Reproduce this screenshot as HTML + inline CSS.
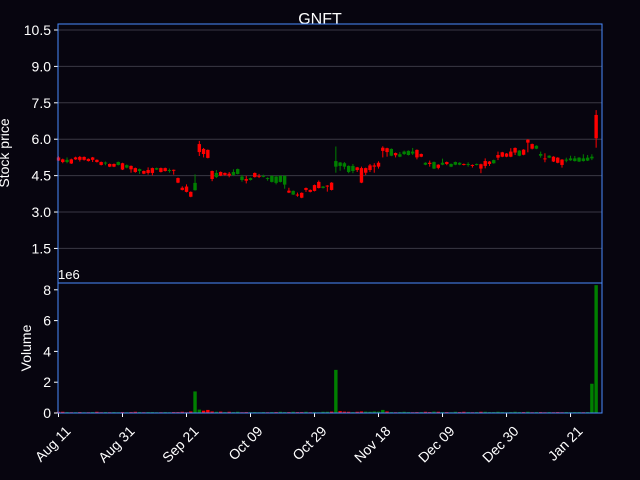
<!DOCTYPE html>
<html><head><meta charset="utf-8"><style>
html,body{margin:0;padding:0;background:#07050f;}
svg{display:block;font-family:"Liberation Sans","DejaVu Sans",sans-serif;}
</style></head><body>
<svg id="chart" width="640" height="480" viewBox="0 0 640 480" xmlns="http://www.w3.org/2000/svg">
<rect x="0" y="0" width="640" height="480" fill="#07050f"/>
<text x="320" y="24" fill="#ffffff" font-size="16" text-anchor="middle">GNFT</text>
<text transform="translate(9,153) rotate(-90)" fill="#ffffff" font-size="14" text-anchor="middle">Stock price</text>
<text transform="translate(31,348) rotate(-90)" fill="#ffffff" font-size="14" text-anchor="middle">Volume</text>
<text x="58" y="279" fill="#ffffff" font-size="13">1e6</text>
<g id="grid"></g>
<g id="candles"></g>
<g id="vols"></g>
<g id="axes"></g>
<rect x="58" y="24" width="544" height="259" fill="none" stroke="#4a8cff" stroke-width="1"/>
<rect x="58" y="283" width="544" height="130" fill="none" stroke="#4a8cff" stroke-width="1"/>
</svg>
<script>
const opens=[5.25,5.17,5.06,5.17,5.25,5.27,5.27,5.19,5.25,5.15,5.06,5.0,4.98,4.98,4.94,5.01,4.83,4.9,4.81,4.69,4.69,4.73,4.81,4.75,4.81,4.81,4.69,4.74,4.4,4.0,4.05,3.83,3.9,5.8,5.6,5.56,4.69,4.44,4.65,4.61,4.58,4.53,4.57,4.32,4.36,4.32,4.61,4.49,4.47,4.38,4.24,4.2,4.24,4.13,3.88,3.72,3.72,3.79,3.99,3.91,4.11,4.24,3.99,4.09,4.21,4.87,4.9,4.87,4.65,4.69,4.84,4.81,4.81,4.92,4.92,5.03,5.65,5.63,5.32,5.43,5.28,5.39,5.35,5.41,5.56,5.39,4.95,5.03,4.79,4.95,4.95,5.06,4.87,4.95,4.95,4.98,4.95,4.94,4.94,4.97,5.1,5.08,5.01,5.35,5.46,5.41,5.49,5.64,5.32,5.57,5.98,5.8,5.61,5.32,5.21,5.24,5.28,5.24,5.16,5.13,5.13,5.1,5.08,5.1,5.12,5.21,7.0];
const highs=[5.3,5.2,5.25,5.2,5.28,5.31,5.29,5.21,5.27,5.17,5.08,5.08,5.0,5.0,5.08,5.03,4.96,4.92,4.83,4.79,4.71,4.84,4.83,4.83,4.83,4.83,4.79,4.75,4.42,4.06,4.14,3.85,4.55,5.93,5.64,5.58,4.71,4.73,4.67,4.63,4.65,4.76,4.79,4.53,4.49,4.42,4.63,4.57,4.54,4.43,4.51,4.48,4.51,4.51,4.0,3.89,3.8,3.81,4.01,3.93,4.13,4.3,4.07,4.11,4.23,5.7,5.06,5.06,4.92,4.98,4.86,4.87,4.83,4.98,5.01,5.09,5.71,5.65,5.62,5.45,5.47,5.53,5.54,5.64,5.58,5.41,5.05,5.12,5.08,4.97,5.2,5.08,5.0,5.08,5.05,5.0,5.05,4.96,5.0,4.99,5.21,5.1,5.16,5.49,5.48,5.43,5.63,5.66,5.55,5.59,6.0,5.82,5.75,5.49,5.42,5.34,5.3,5.26,5.18,5.24,5.32,5.31,5.26,5.38,5.35,5.38,7.2];
const lows=[5.1,5.01,5.01,4.98,5.15,5.08,5.12,5.08,5.06,5.04,4.92,4.93,4.85,4.85,4.92,4.73,4.8,4.62,4.62,4.57,4.56,4.54,4.51,4.73,4.63,4.67,4.62,4.54,4.19,3.89,3.81,3.61,3.88,5.31,5.25,5.21,4.27,4.4,4.48,4.5,4.43,4.49,4.55,4.25,4.18,4.3,4.42,4.4,4.43,4.29,4.22,4.14,4.22,3.96,3.78,3.7,3.63,3.57,3.83,3.81,3.85,3.97,3.97,3.84,3.89,4.62,4.7,4.76,4.6,4.6,4.65,4.19,4.52,4.65,4.62,4.79,5.25,5.28,5.3,5.25,5.26,5.35,5.33,5.35,5.17,5.26,4.93,4.87,4.77,4.76,4.93,4.93,4.85,4.93,4.93,4.92,4.87,4.83,4.92,4.6,4.8,4.9,4.99,5.14,5.26,5.26,5.26,5.35,5.3,5.34,5.46,5.58,5.59,5.24,5.05,5.22,5.06,5.01,4.83,5.05,5.11,5.08,5.06,5.08,5.1,5.14,5.65];
const closes=[5.12,5.06,5.15,5.0,5.17,5.15,5.15,5.1,5.15,5.06,4.94,5.04,4.87,4.87,5.06,4.75,4.93,4.76,4.65,4.77,4.58,4.61,4.61,4.81,4.65,4.69,4.73,4.72,4.21,3.91,3.83,3.63,4.2,5.47,5.39,5.23,4.36,4.61,4.5,4.53,4.5,4.65,4.77,4.46,4.29,4.4,4.44,4.46,4.49,4.4,4.49,4.46,4.49,4.49,3.8,3.87,3.69,3.59,3.91,3.83,3.87,3.99,4.05,4.06,3.91,5.1,5.04,5.01,4.9,4.9,4.73,4.21,4.62,4.73,4.87,4.87,5.52,5.47,5.6,5.34,5.38,5.49,5.52,5.49,5.25,5.28,5.03,4.98,5.06,4.82,5.03,4.98,4.98,5.06,5.03,4.94,4.98,4.9,4.98,4.79,4.9,4.98,5.14,5.24,5.28,5.28,5.28,5.45,5.53,5.36,5.86,5.61,5.73,5.39,5.19,5.32,5.08,5.03,4.94,5.16,5.21,5.21,5.24,5.21,5.24,5.28,6.04];
const volumes=[0.08,0.08,0.06,0.05,0.05,0.06,0.05,0.05,0.06,0.08,0.05,0.06,0.05,0.06,0.05,0.06,0.05,0.06,0.08,0.06,0.05,0.06,0.06,0.05,0.05,0.06,0.05,0.06,0.06,0.08,0.05,0.1,1.4,0.22,0.15,0.2,0.1,0.08,0.09,0.06,0.08,0.06,0.08,0.05,0.06,0.05,0.06,0.05,0.06,0.05,0.06,0.06,0.08,0.06,0.06,0.08,0.06,0.06,0.08,0.05,0.06,0.05,0.08,0.08,0.09,2.8,0.12,0.09,0.08,0.06,0.08,0.1,0.09,0.08,0.1,0.09,0.2,0.1,0.06,0.05,0.06,0.08,0.06,0.05,0.06,0.06,0.08,0.06,0.09,0.08,0.06,0.06,0.05,0.08,0.06,0.08,0.06,0.05,0.06,0.08,0.08,0.06,0.06,0.08,0.06,0.05,0.06,0.08,0.06,0.06,0.08,0.05,0.06,0.06,0.05,0.06,0.05,0.06,0.05,0.06,0.05,0.06,0.06,0.05,0.06,1.9,8.3];
const priceTicks=[1.5,3.0,4.5,6.0,7.5,9.0,10.5];
const volTicks=[0,2,4,6,8];
const dateLabels=["Aug 11","Aug 31","Sep 21","Oct 09","Oct 29","Nov 18","Dec 09","Dec 30","Jan 21"];
const dateIdx=[0,15,30,45,60,75,90,105,120];

const NS="http://www.w3.org/2000/svg";
const xS=i=>58.5+i*4.267;
const yP=p=>30+(10.5-p)*24.27;
const yV=v=>413-v*15.4;
function mk(tag,attrs,parent){const e=document.createElementNS(NS,tag);for(const k in attrs)e.setAttribute(k,attrs[k]);parent.appendChild(e);return e;}
const grid=document.getElementById('grid'),cg=document.getElementById('candles'),vg=document.getElementById('vols'),ax=document.getElementById('axes');
priceTicks.forEach(t=>{
  const y=yP(t);
  const l=mk('line',{x1:58,x2:602,y1:y,y2:y,stroke:'#3a3844','stroke-width':1},grid);
  
  
  const tk=mk('line',{x1:54,x2:58,y1:y,y2:y,stroke:'#fff'},ax);
  
  
  const tx=mk('text',{x:51,y:y+5,fill:'#fff','font-size':14,'text-anchor':'end'},ax);
  tx.textContent=t.toFixed(1);
  
  
});
volTicks.forEach(t=>{
  const y=yV(t);
  const tk=mk('line',{x1:54,x2:58,y1:y,y2:y,stroke:'#fff'},ax);
  
  
  const tx=mk('text',{x:51,y:y+5,fill:'#fff','font-size':14,'text-anchor':'end'},ax);
  tx.textContent=t;
  
  
});
dateIdx.forEach((d,k)=>{
  const x=xS(d);
  const tk=mk('line',{x1:x,x2:x,y1:413,y2:417,stroke:'#fff'},ax);
  
  
  const tx=mk('text',{transform:`translate(${x+13},${432}) rotate(-45)`,fill:'#fff','font-size':14,'text-anchor':'end'},ax);
  tx.textContent=dateLabels[k];
  
  
});
opens.forEach((o,i)=>{
  const c=closes[i],x=xS(i),col=c>=o?'#008000':'#ff0000';
  const w=mk('line',{x1:x,x2:x,y1:yP(highs[i]),y2:yP(lows[i]),stroke:col,'stroke-width':1},cg);
  
  
  const top=yP(Math.max(o,c)),bot=yP(Math.min(o,c));
  const b=mk('rect',{x:x-1.7,y:top,width:3.4,height:Math.max(1,bot-top),fill:col},cg);
  
  
  const pc=i>0?closes[i-1]:o;
  const vc=c>=pc?'#008000':'#ff0000';
  const v=mk('rect',{x:x-1.7,y:yV(volumes[i]),width:3.4,height:Math.max(0.5,413-yV(volumes[i])),fill:vc},vg);
  
  
});
</script>
</body></html>
